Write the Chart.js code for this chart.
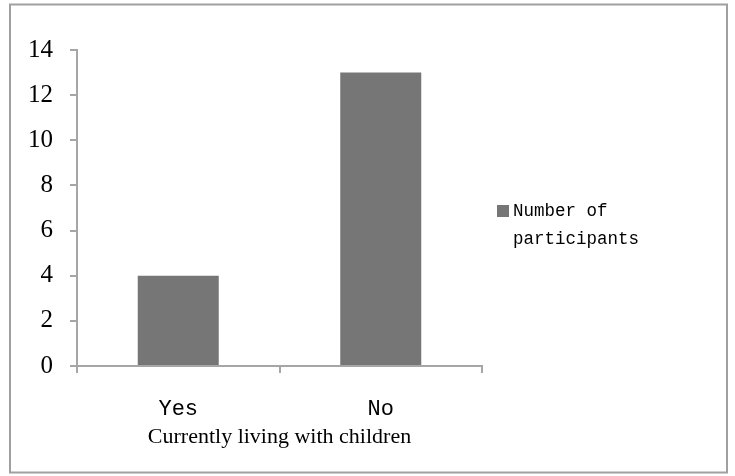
<!DOCTYPE html>
<html>
<head>
<meta charset="utf-8">
<script src="https://cdn.jsdelivr.net/npm/chart.js@4/dist/chart.umd.min.js"></script>
<style>
  html, body { margin: 0; padding: 0; background: #fff; }
  #wrap { width: 735px; height: 476px; position: relative; }
</style>
</head>
<body>
<div id="wrap"><canvas id="c" width="735" height="476"></canvas></div>
<script>
// Participants grouped by whether they currently live with children
const categories = ['Yes', 'No'];
const participants = [4, 13];
const seriesLabel = ['Number of', 'participants'];
const yTicks = [0, 2, 4, 6, 8, 10, 12, 14];
const axisTitle = 'Currently living with children';

const barColor = '#767676';
const axisColor = '#a6a6a6';

// Frame around the whole figure
const framePlugin = {
  id: 'frame',
  beforeDraw(chart) {
    const ctx = chart.ctx;
    ctx.save();
    ctx.fillStyle = '#fff';
    ctx.fillRect(0, 0, chart.width, chart.height);
    ctx.strokeStyle = '#a0a0a0';
    ctx.lineWidth = 2;
    ctx.strokeRect(10, 4.5, 717, 468);
    ctx.restore();
  }
};

// Legend box with a two-line label, placed right of the plot area
const sideLegend = {
  id: 'sideLegend',
  afterDraw(chart) {
    const ctx = chart.ctx;
    const area = chart.chartArea;
    const ds = chart.data.datasets[0];
    const x = area.right + 15;
    const yMid = (area.top + area.bottom) / 2 + 3;
    ctx.save();
    ctx.fillStyle = ds.backgroundColor;
    ctx.fillRect(x, yMid - 6, 12, 12);
    ctx.fillStyle = '#000';
    ctx.font = '17.5px "Liberation Mono", monospace';
    ctx.textBaseline = 'middle';
    ctx.textAlign = 'left';
    const lines = Array.isArray(ds.label) ? ds.label : [ds.label];
    lines.forEach((t, i) => ctx.fillText(t, x + 16, yMid + i * 28));
    ctx.restore();
  }
};

new Chart(document.getElementById('c'), {
  type: 'bar',
  data: {
    labels: categories,
    datasets: [{
      label: seriesLabel,
      data: participants,
      backgroundColor: barColor,
      barPercentage: 0.4,
      categoryPercentage: 1.0
    }]
  },
  options: {
    responsive: false,
    animation: false,
    layout: { padding: { top: 50, right: 253, bottom: 0, left: 0 } },
    plugins: {
      legend: { display: false },
      tooltip: { enabled: false }
    },
    scales: {
      x: {
        afterFit(scale) { scale.height = 110; },
        border: { color: axisColor, width: 2 },
        grid: {
          offset: true,
          drawOnChartArea: false,
          drawTicks: true,
          tickLength: 7,
          color: axisColor,
          lineWidth: 2
        },
        ticks: {
          color: '#000',
          padding: 23,
          font: { family: '"Liberation Mono", monospace', size: 22 }
        },
        title: {
          display: true,
          text: axisTitle,
          color: '#000',
          padding: { top: 0, bottom: 26 },
          font: { family: '"Liberation Serif", serif', size: 22 }
        }
      },
      y: {
        min: 0,
        max: 14,
        afterFit(scale) { scale.width = 77; },
        afterBuildTicks(scale) { scale.ticks = yTicks.map(v => ({ value: v })); },
        border: { color: axisColor, width: 2 },
        grid: {
          drawOnChartArea: false,
          drawTicks: true,
          tickLength: 7,
          color: axisColor,
          lineWidth: 2
        },
        ticks: {
          color: '#000',
          padding: 17,
          font: { family: '"Liberation Serif", serif', size: 25 }
        }
      }
    }
  },
  plugins: [framePlugin, sideLegend]
});
</script>
</body>
</html>
